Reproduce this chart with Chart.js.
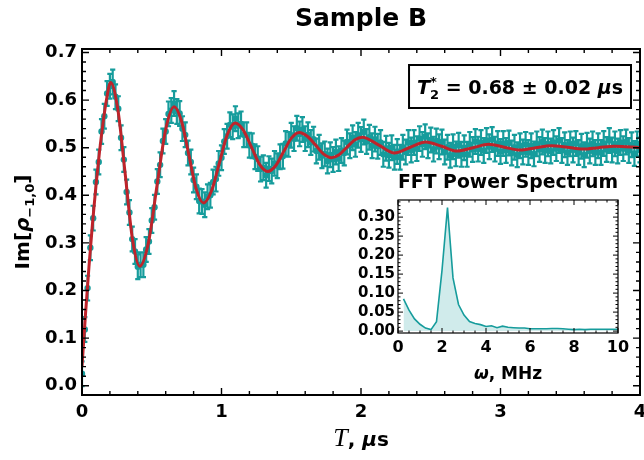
<!DOCTYPE html>
<html>
<head>
<meta charset="utf-8">
<script src="https://cdn.jsdelivr.net/npm/chart.js@4.4.1/dist/chart.umd.min.js"></script>
<style>
  html, body { margin: 0; padding: 0; background: #fff; overflow: hidden; }
  #wrap { position: relative; width: 644px; height: 460px; }
  #main { position: absolute; left: 0; top: 0; }
  #fft  { position: absolute; left: 340px; top: 168px; }
</style>
</head>
<body>
<div id="wrap">
  <canvas id="main" width="644" height="460"></canvas>
  <canvas id="fft" width="290" height="220"></canvas>
</div>
<script>
/* ── DATA ── */
const tauStep = 0.02;            // μs between measured points
const imRho = [
  0.025,0.118,0.205,0.290,0.352,0.428,0.470,0.534,0.566,0.614,
  0.629,0.638,0.607,0.582,0.521,0.475,0.407,0.364,0.308,0.282,
  0.250,0.254,0.254,0.286,0.303,0.347,0.375,0.429,0.464,0.514,
  0.534,0.571,0.578,0.593,0.576,0.572,0.540,0.527,0.489,0.470,
  0.432,0.418,0.388,0.387,0.380,0.397,0.400,0.428,0.434,0.467,
  0.479,0.513,0.524,0.548,0.544,0.561,0.546,0.550,0.527,0.527,
  0.505,0.504,0.481,0.477,0.455,0.458,0.442,0.456,0.451,0.467,
  0.462,0.481,0.482,0.509,0.507,0.526,0.519,0.541,0.529,0.538,
  0.519,0.527,0.511,0.518,0.493,0.501,0.483,0.487,0.472,0.485,
  0.475,0.491,0.477,0.494,0.489,0.512,0.504,0.521,0.507,0.526,
  0.517,0.533,0.513,0.522,0.504,0.518,0.503,0.511,0.486,0.499,
  0.484,0.500,0.480,0.492,0.480,0.501,0.491,0.511,0.495,0.511,
  0.498,0.519,0.507,0.523,0.504,0.516,0.497,0.514,0.502,0.512,
  0.491,0.501,0.484,0.502,0.487,0.505,0.486,0.500,0.486,0.507,
  0.496,0.513,0.497,0.511,0.494,0.515,0.502,0.517,0.497,0.509,
  0.492,0.509,0.494,0.510,0.489,0.501,0.485,0.504,0.491,0.507,
  0.490,0.504,0.487,0.508,0.496,0.512,0.494,0.508,0.493,0.511,
  0.498,0.515,0.494,0.506,0.490,0.508,0.495,0.509,0.490,0.503,
  0.485,0.505,0.493,0.508,0.490,0.504,0.490,0.509,0.496,0.515,
  0.495,0.508,0.493,0.511,0.498,0.512,0.494,0.506,0.488,0.508,
  0.495
];
const imRhoErr = 0.026;

// red fit curve, sampled at the extremes and in between
const fitTau = [0, 0.025, 0.05, 0.075, 0.1, 0.125, 0.15, 0.175, 0.205,
  0.257, 0.31, 0.362, 0.414, 0.476, 0.537, 0.599, 0.66, 0.713, 0.766, 0.818, 0.871,
  0.928, 0.985, 1.041, 1.098, 1.156, 1.215, 1.273, 1.331, 1.388, 1.444, 1.501, 1.557,
  1.615, 1.673, 1.73, 1.788, 1.843, 1.899, 1.954, 2.009, 2.125, 2.24, 2.353, 2.465,
  2.578, 2.69, 2.803, 2.915, 3.028, 3.14, 3.253, 3.365, 3.478, 3.59, 3.703, 3.815, 4.0];
const fitIm = [0.04, 0.15, 0.25, 0.34, 0.42, 0.49, 0.55, 0.60, 0.637,
  0.580, 0.444, 0.307, 0.251, 0.300, 0.419, 0.537, 0.586, 0.556, 0.485, 0.414, 0.384,
  0.409, 0.468, 0.527, 0.552, 0.537, 0.501, 0.465, 0.450, 0.462, 0.491, 0.520, 0.532,
  0.524, 0.506, 0.487, 0.479, 0.485, 0.501, 0.516, 0.522, 0.506, 0.489, 0.501, 0.512,
  0.503, 0.493, 0.500, 0.507, 0.501, 0.495, 0.500, 0.504, 0.501, 0.497, 0.500, 0.503, 0.500];

// FFT inset
const fftFreq = [0.25,0.5,0.75,1,1.25,1.5,1.75,2,2.25,2.5,2.75,3,3.25,3.5,3.75,4,4.25,4.5,4.75,5,
  5.25,5.5,5.75,6,6.25,6.5,6.75,7,7.25,7.5,7.75,8,8.25,8.5,8.75,9,9.25,9.5,9.75,10];
const fftPower = [0.085,0.055,0.032,0.018,0.008,0.004,0.025,0.160,0.325,0.140,
  0.070,0.042,0.025,0.020,0.017,0.012,0.014,0.009,0.013,0.010,
  0.009,0.008,0.008,0.006,0.006,0.006,0.006,0.007,0.007,0.006,
  0.005,0.004,0.005,0.004,0.005,0.005,0.005,0.005,0.005,0.005];

const mainXTicks = [0, 1, 2, 3, 4];
const mainYTicks = [0, 0.1, 0.2, 0.3, 0.4, 0.5, 0.6, 0.7];
const fftXTicks  = [0, 2, 4, 6, 8, 10];
const fftYTicks  = [0, 0.05, 0.1, 0.15, 0.2, 0.25, 0.3];

/* ── STYLE ── */
const TEAL = '#169c9c';
const RED  = '#be242b';
const FAMILY = '"DejaVu Sans", sans-serif';
const f = (size, style) => `${style ? style + ' ' : ''}bold ${size}px "DejaVu Sans"`;

/* ── TEXT WITH SUB/SUPERSCRIPTS ── */
function layoutRuns(ctx, runs) {
  let x = 0, prevX = 0, prevW = 0;
  const pos = runs.map(r => {
    ctx.font = r.font;
    const w = ctx.measureText(r.text).width;
    if (r.stack) { const adv = Math.max(prevW, w); x = prevX + adv; prevW = adv; return prevX; }
    prevX = x; prevW = w; x += w; return prevX;
  });
  return { pos, width: x };
}
function drawRuns(ctx, runs, cx, base, rot) {
  const { pos, width } = layoutRuns(ctx, runs);
  ctx.save();
  ctx.translate(cx, base);
  if (rot) ctx.rotate(rot);
  ctx.fillStyle = '#000'; ctx.textBaseline = 'alphabetic'; ctx.textAlign = 'left';
  runs.forEach((r, i) => { ctx.font = r.font; ctx.fillText(r.text, pos[i] - width / 2, r.dy || 0); });
  ctx.restore();
  return width;
}

/* ── PLUGINS ── */
const errorBars = {
  id: 'errorBars',
  beforeDatasetsDraw(chart, args, o) {
    const { ctx, chartArea: a, scales: { y } } = chart;
    const meta = chart.getDatasetMeta(o.datasetIndex);
    const pts = chart.data.datasets[o.datasetIndex].data;
    ctx.save();
    ctx.beginPath(); ctx.rect(a.left, a.top, a.right - a.left, a.bottom - a.top); ctx.clip();
    ctx.strokeStyle = o.color; ctx.lineWidth = o.width;
    ctx.beginPath();
    meta.data.forEach((el, i) => {
      const hi = y.getPixelForValue(pts[i].y + o.err);
      const lo = y.getPixelForValue(pts[i].y - o.err);
      ctx.moveTo(el.x, hi); ctx.lineTo(el.x, lo);
      ctx.moveTo(el.x - o.cap, hi); ctx.lineTo(el.x + o.cap, hi);
      ctx.moveTo(el.x - o.cap, lo); ctx.lineTo(el.x + o.cap, lo);
    });
    ctx.stroke();
    ctx.restore();
  }
};

// Mathematica-like frame: ticks pointing inward on all four sides
const frameTicks = {
  id: 'frameTicks',
  afterDraw(chart, args, o) {
    const { ctx, chartArea: a, scales: { x, y } } = chart;
    const isMajor = (v, step) => Math.abs(v / step - Math.round(v / step)) < 1e-6;
    ctx.save();
    ctx.strokeStyle = '#000'; ctx.lineWidth = o.tickWidth;
    ctx.beginPath();
    for (let k = Math.ceil(x.min / o.xMinor - 1e-9); k * o.xMinor <= x.max + 1e-9; k++) {
      const v = k * o.xMinor, px = x.getPixelForValue(v);
      const len = isMajor(v, o.xMajor) ? o.majorLen : o.minorLen;
      ctx.moveTo(px, a.bottom); ctx.lineTo(px, a.bottom - len);
      ctx.moveTo(px, a.top); ctx.lineTo(px, a.top + len);
    }
    for (let k = Math.ceil(y.min / o.yMinor - 1e-9); k * o.yMinor <= y.max + 1e-9; k++) {
      const v = k * o.yMinor, py = y.getPixelForValue(v);
      const len = isMajor(v, o.yMajor) ? o.majorLen : o.minorLen;
      ctx.moveTo(a.left, py); ctx.lineTo(a.left + len, py);
      ctx.moveTo(a.right, py); ctx.lineTo(a.right - len, py);
    }
    ctx.stroke();
    ctx.lineWidth = o.frameWidth;
    ctx.strokeRect(a.left, a.top, a.right - a.left, a.bottom - a.top);
    ctx.restore();
  }
};

const mainLabels = {
  id: 'mainLabels',
  afterDraw(chart) {
    const { ctx, chartArea: a } = chart;
    drawRuns(ctx, [
      { text: 'Im[', font: f(20) },
      { text: 'ρ', font: f(20, 'italic') },
      { text: '−1,0', font: f(13), dy: 5 },
      { text: ']', font: f(20) },
    ], 29, (a.top + a.bottom) / 2, -Math.PI / 2);

    drawRuns(ctx, [
      { text: 'T', font: 'italic 26px "Liberation Serif"' },
      { text: ', ', font: f(20) },
      { text: 'μ', font: f(20, 'italic') },
      { text: 's', font: f(20) },
    ], (a.left + a.right) / 2, 446);

    // T2* result box
    const t2 = [
      { text: 'T', font: f(19, 'italic') },
      { text: '2', font: f(13), dy: 5 },
      { text: '*', font: f(13), dy: -8, stack: true },
      { text: ' = 0.68 ± 0.02 ', font: f(19) },
      { text: 'μ', font: f(19, 'italic') },
      { text: 's', font: f(19) },
    ];
    const w = layoutRuns(ctx, t2).width;
    const right = 631, top = 65, bottom = 108, pad = 8;
    ctx.save();
    ctx.fillStyle = '#fff';
    ctx.fillRect(right - w - 2 * pad, top, w + 2 * pad, bottom - top);
    ctx.lineWidth = 2; ctx.strokeStyle = '#000';
    ctx.strokeRect(right - w - 2 * pad, top, w + 2 * pad, bottom - top);
    ctx.restore();
    drawRuns(ctx, t2, right - pad - w / 2, 93.5);
  }
};

const fftLabels = {
  id: 'fftLabels',
  afterDraw(chart) {
    const { ctx, chartArea: a } = chart;
    drawRuns(ctx, [
      { text: 'ω', font: f(17, 'italic') },
      { text: ', MHz', font: f(17) },
    ], (a.left + a.right) / 2, 211);
  }
};

/* ── MAIN CHART ── */
new Chart(document.getElementById('main'), {
  type: 'scatter',
  data: {
    datasets: [
      {
        label: 'data',
        data: imRho.map((v, i) => ({ x: i * tauStep, y: v })),
        pointRadius: 3.2, pointBorderWidth: 0,
        pointBackgroundColor: TEAL, backgroundColor: TEAL,
        showLine: false, order: 1,
      },
      {
        label: 'fit', type: 'line',
        data: fitTau.map((t, i) => ({ x: t, y: fitIm[i] })),
        borderColor: RED, borderWidth: 3, pointRadius: 0,
        cubicInterpolationMode: 'monotone', fill: false, order: 0,
      },
    ],
  },
  options: {
    responsive: false, animation: false,
    layout: { padding: { top: 0, right: 3, bottom: 0, left: 0 } },
    plugins: {
      legend: { display: false }, tooltip: { enabled: false },
      title: {
        display: true, text: 'Sample B', fullSize: false, color: '#000',
        font: { family: FAMILY, size: 25, weight: 'bold' },
        padding: { top: 4, bottom: 15 },
      },
      errorBars: { datasetIndex: 0, err: imRhoErr, color: TEAL, width: 2.2, cap: 2.6 },
      frameTicks: { xMajor: 1, xMinor: 0.2, yMajor: 0.1, yMinor: 0.02,
                    majorLen: 7, minorLen: 4, tickWidth: 1.4, frameWidth: 2 },
    },
    scales: {
      x: {
        type: 'linear', min: 0, max: 4,
        grid: { display: false, drawTicks: false }, border: { display: false },
        afterBuildTicks: s => { s.ticks = mainXTicks.map(v => ({ value: v })); },
        afterFit: s => { s.height = 65; s.paddingLeft = 0; s.paddingRight = 0; },
        ticks: { color: '#000', padding: 7, maxRotation: 0, autoSkip: false,
                 font: { family: FAMILY, size: 18, weight: 'bold' }, callback: v => String(v) },
      },
      y: {
        type: 'linear', min: -0.0195, max: 0.7073,
        grid: { display: false, drawTicks: false }, border: { display: false },
        afterBuildTicks: s => { s.ticks = mainYTicks.map(v => ({ value: v })); },
        afterFit: s => { s.width = 82; s.paddingTop = 0; s.paddingBottom = 0; },
        ticks: { color: '#000', padding: 5, autoSkip: false,
                 font: { family: FAMILY, size: 18, weight: 'bold' }, callback: v => v.toFixed(1) },
      },
    },
  },
  plugins: [errorBars, frameTicks, mainLabels],
});

/* ── FFT INSET ── */
new Chart(document.getElementById('fft'), {
  type: 'line',
  data: {
    datasets: [{
      data: fftFreq.map((fr, i) => ({ x: fr, y: fftPower[i] })),
      borderColor: TEAL, borderWidth: 1.6,
      backgroundColor: 'rgba(22,156,156,0.2)', fill: 'origin',
      pointRadius: 0, tension: 0,
    }],
  },
  options: {
    responsive: false, animation: false,
    layout: { padding: { top: 0, right: 12, bottom: 0, left: 0 } },
    plugins: {
      legend: { display: false }, tooltip: { enabled: false },
      title: {
        display: true, text: 'FFT Power Spectrum', fullSize: false, color: '#000',
        font: { family: FAMILY, size: 19, weight: 'bold' },
        padding: { top: 4, bottom: 5.2 },
      },
      frameTicks: { xMajor: 2, xMinor: 0.5, yMajor: 0.05, yMinor: 0.01,
                    majorLen: 5, minorLen: 2.5, tickWidth: 1, frameWidth: 1.2 },
    },
    scales: {
      x: {
        type: 'linear', min: 0, max: 10,
        grid: { display: false, drawTicks: false }, border: { display: false },
        afterBuildTicks: s => { s.ticks = fftXTicks.map(v => ({ value: v })); },
        afterFit: s => { s.height = 55; s.paddingLeft = 0; s.paddingRight = 0; },
        ticks: { color: '#000', padding: 5, maxRotation: 0, autoSkip: false,
                 font: { family: FAMILY, size: 16, weight: 'bold' }, callback: v => String(v) },
      },
      y: {
        type: 'linear', min: -0.005, max: 0.345,
        grid: { display: false, drawTicks: false }, border: { display: false },
        afterBuildTicks: s => { s.ticks = fftYTicks.map(v => ({ value: v })); },
        afterFit: s => { s.width = 58; s.paddingTop = 0; s.paddingBottom = 0; },
        ticks: { color: '#000', padding: 3, autoSkip: false,
                 font: { family: FAMILY, size: 15, weight: 'bold' }, callback: v => v.toFixed(2) },
      },
    },
  },
  plugins: [frameTicks, fftLabels],
});
</script>
</body>
</html>
